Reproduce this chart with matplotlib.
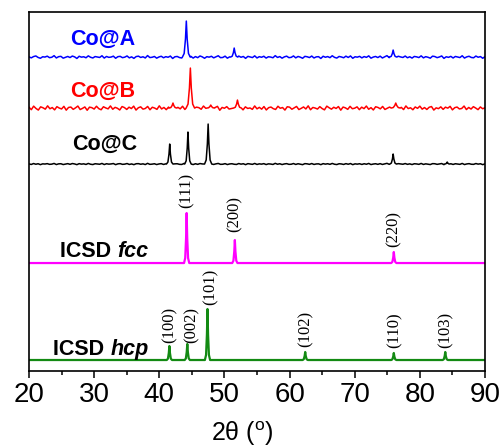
import numpy as np
import matplotlib
matplotlib.use("Agg")
import matplotlib.pyplot as plt

plt.rcParams['font.family'] = ['Liberation Sans', 'DejaVu Sans']
plt.rcParams['mathtext.fontset'] = 'custom'
plt.rcParams['mathtext.rm'] = 'Liberation Sans'

# ---------------- data (intensity in arbitrary units) ----------------
# Co@A
A_peak_pos = [44.15, 51.5, 75.9]
A_peak_h = [36, 9, 7]
A_peak_w = [0.6, 0.55, 0.55]
A_noise = [0.2,-0.8,0.5,1.1,-0.4,-1.2,0.3,0.0,0.9,-0.6,-0.2,1.4,-0.9,0.4,0.7,-1.1,-0.3,0.6,-0.5,1.0,0.2,-1.4,0.8,-0.1,0.3,-0.7,1.2,-0.2,-0.9,0.5,0.1,-0.4,1.3,-1.0,0.6,-0.3,0.0,0.9,-1.2,0.4,0.7,-0.6,-0.1,1.1,-0.8,0.2,-1.3,0.5,0.9,-0.4,0.3,-0.9,1.5,-0.5,-0.2,0.6,-1.1,0.1,0.8,-0.7,0.4,-0.2,1.0,-1.4,0.3,0.6,-0.5,-0.9,1.2,0.0,-0.3,0.7,-1.0,0.5,-0.6,1.1,0.2,-1.2,0.4,-0.1,0.8,-0.8,0.3,1.3,-0.6,-0.4,0.9,-1.1,0.2,0.5,-0.3,-0.8,1.0,-0.2,0.6,-1.3,0.7,0.1,-0.5,1.2,-0.9,0.4,-0.2,0.8,-1.0,0.3,0.0,-0.7,1.4,-0.4,0.5,-1.1,0.2,0.9,-0.6,-0.3,1.1,-0.8,0.6,-0.1,-1.2,0.7,0.3,-0.5,1.0,-0.9,0.2,0.4,-1.4,0.8,-0.2,0.5,-0.6,1.3,-0.3,-1.0,0.6,0.1,-0.7,0.9,-0.4,1.1,-1.2,0.3,-0.1,0.7,-0.8,0.5,-0.3,1.2,-1.1,0.0,0.6,-0.5,0.9,-0.9,0.2,1.4,-0.6,-0.2,0.4,-1.3,0.8,0.1,-0.4,1.0,-0.7,0.3,-1.0,0.6,0.2,-0.5,1.2,-0.8,0.4,-0.2,-1.1,0.9,0.5,-0.6,0.1,1.1,-1.3,0.3,-0.3,0.7,-0.9,0.6,0.0,-0.5,1.3,-1.0,0.2,0.8,-0.4,-0.7,1.0,-0.2,0.5,-1.2,0.4]

# Co@B
B_peak_pos = [44.77, 42.1, 47.9, 52.0, 76.3]
B_peak_h = [40, 5, 3, 8, 5]
B_peak_w = [0.65, 0.6, 0.6, 0.6, 0.7]
B_noise = [0.8,-1.6,1.9,-0.4,-2.0,1.2,0.3,-1.1,2.2,-0.7,0.5,-1.8,1.4,0.0,-0.9,1.7,-2.1,0.6,1.0,-1.3,0.2,2.0,-1.5,-0.3,1.1,-2.2,0.9,0.4,-1.0,1.8,-0.6,-1.7,1.3,0.1,-0.8,2.1,-1.2,0.7,-0.2,-1.9,1.5,0.5,-1.4,0.9,-0.5,1.9,-2.0,0.3,1.2,-1.1,-0.4,1.6,-1.7,0.8,0.0,-1.3,2.2,-0.9,0.6,-1.6,1.0,-0.1,-2.1,1.4,0.7,-0.8,1.8,-1.4,0.2,-0.6,1.3,-1.9,0.9,0.4,-1.2,2.0,-0.3,-1.5,1.1,-0.7,0.5,1.7,-2.2,0.6,-0.2,1.4,-1.0,-0.5,1.9,-1.6,0.3,0.8,-1.8,1.2,-0.4,0.1,-1.3,2.1,-0.8,0.7,-1.1,1.5,-1.9,0.4,1.0,-0.6,-1.4,1.8,-0.2,0.5,-2.0,1.3,0.9,-1.2,0.2,1.6,-1.5,-0.3,1.1,-0.9,2.2,-1.7,0.6,0.0,-1.0,1.4,-0.5,-1.8,1.9,0.3,-1.1,0.8,-0.4,1.5,-2.1,1.0,0.2,-1.3,1.7,-0.7,-0.1,1.2,-1.6,0.9,-0.6,2.0,-1.2,0.4,-1.9,1.3,0.6,-0.8,1.6,-1.4,-0.2,1.0,-2.2,1.8,0.1,-0.9,0.7,-1.5,2.1,-0.5,0.3,-1.7,1.1,-0.3,1.9,-1.1,0.5,-1.4,0.8,1.5,-2.0,0.2,-0.6,1.2,-1.3,0.9,-0.1,1.7,-1.8,0.4,1.0,-0.9,-0.4,2.0,-1.5,0.6,-1.0,1.4,0.0,-1.6,1.1,-0.7,0.3]

# Co@C
C_peak_pos = [41.6, 44.4, 47.5, 75.9, 84.2]
C_peak_h = [20, 32, 40, 10, 2]
C_peak_w = [0.5, 0.5, 0.55, 0.5, 0.4]
C_noise = [0.1,-0.4,0.5,-0.2,0.3,-0.6,0.2,0.0,0.4,-0.3,-0.1,0.6,-0.5,0.2,0.3,-0.5,-0.1,0.4,-0.3,0.5,0.1,-0.6,0.4,-0.1,0.2,-0.4,0.6,-0.2,-0.5,0.3,0.0,-0.2,0.6,-0.5,0.3,-0.1,0.1,0.5,-0.6,0.2,0.4,-0.3,-0.1,0.5,-0.4,0.1,-0.6,0.3,0.4,-0.2,0.2,-0.5,0.7,-0.3,-0.1,0.3,-0.5,0.1,0.4,-0.4,0.2,-0.1,0.5,-0.6,0.2,0.3,-0.3,-0.4,0.6,0.0,-0.2,0.4,-0.5,0.3,-0.3,0.5,0.1,-0.6,0.2,-0.1,0.4,-0.4,0.2,0.6,-0.3,-0.2,0.4,-0.5,0.1,0.3,-0.2,-0.4,0.5,-0.1,0.3,-0.6,0.4,0.1,-0.3,0.6,-0.4,0.2,-0.1,0.4,-0.5,0.2,0.0,-0.4,0.7,-0.2,0.3,-0.5,0.1,0.4,-0.3,-0.2,0.5,-0.4,0.3,-0.1,-0.6,0.4,0.2,-0.3,0.5,-0.4,0.1,0.2,-0.6,0.4,-0.1,0.3,-0.3,0.6,-0.2,-0.5,0.3,0.1,-0.4,0.4,-0.2,0.5,-0.6,0.2,-0.1,0.3,-0.4,0.3,-0.2,0.6,-0.5,0.0,0.3,-0.3,0.4,-0.4,0.1,0.7,-0.3,-0.1,0.2,-0.6,0.4,0.1,-0.2,0.5,-0.3,0.2,-0.5,0.3,0.1,-0.3,0.6,-0.4,0.2,-0.1,-0.5,0.4,0.3,-0.3,0.1,0.5,-0.6,0.2,-0.2,0.3,-0.4,0.3,0.0,-0.3,0.6,-0.5,0.1,0.4,-0.2,-0.3,0.5,-0.1,0.3,-0.6,0.2]

# ICSD fcc reference
fcc_pos = [44.2, 51.6, 76.0]
fcc_h = [50, 23, 11]
fcc_hkl = ['(111)', '(200)', '(220)']

# ICSD hcp reference
hcp_pos = [41.55, 44.3, 47.4, 62.4, 76.0, 83.9]
hcp_h = [14, 16, 51, 8, 7, 8]
hcp_hkl = ['(100)', '(002)', '(101)', '(102)', '(110)', '(103)']

xticks = [20, 30, 40, 50, 60, 70, 80, 90]

# ---------------- layout / style ----------------
offsets = {'A': 314, 'B': 263, 'C': 207, 'fcc': 108, 'hcp': 11}
ref_w = 0.4
shape_dx = [-1, -0.55, -0.22, 0, 0.22, 0.55, 1]
shape_dy = [0, 0.1, 0.5, 1, 0.5, 0.1, 0]


def build_trace(noise, pos, h, w, base):
    if noise is None:
        gx = np.array([20.0, 90.0])
        gy = np.array([0.0, 0.0])
    else:
        gx = np.linspace(20, 90, len(noise))
        gy = np.array(noise, dtype=float)
    keep = np.ones(len(gx), bool)
    for p, ww in zip(pos, w):
        keep &= np.abs(gx - p) > ww
    xs = list(gx[keep])
    ys = list(gy[keep])
    for p, hh, ww in zip(pos, h, w):
        for dx, dy in zip(shape_dx, shape_dy):
            xs.append(p + dx * ww)
            ys.append(hh * dy)
    order = np.argsort(xs)
    return np.array(xs)[order], np.array(ys)[order] + base


fig = plt.figure(figsize=(5.0, 4.47), dpi=100)
ax = fig.add_axes([0.058, 0.170, 0.912, 0.803])

lw = 1.1
x, y = build_trace(A_noise, A_peak_pos, A_peak_h, A_peak_w, offsets['A'])
ax.plot(x, y, color='#0000ff', lw=lw)
x, y = build_trace(B_noise, B_peak_pos, B_peak_h, B_peak_w, offsets['B'])
ax.plot(x, y, color='#ff0000', lw=lw)
x, y = build_trace(C_noise, C_peak_pos, C_peak_h, C_peak_w, offsets['C'])
ax.plot(x, y, color='black', lw=lw)
x, y = build_trace(None, fcc_pos, fcc_h, [ref_w] * len(fcc_pos), offsets['fcc'])
ax.plot(x, y, color='#ff00ff', lw=1.6)
x, y = build_trace(None, hcp_pos, hcp_h, [ref_w] * len(hcp_pos), offsets['hcp'])
ax.plot(x, y, color='#138a13', lw=1.6)

# hkl labels
serif = ['Liberation Serif', 'DejaVu Serif']
fcc_lab_dx = [0.05, 0.0, 0.05]
fcc_lab_gap = [5, 8, 5]
for p, hh, t, dx, g in zip(fcc_pos, fcc_h, fcc_hkl, fcc_lab_dx, fcc_lab_gap):
    ax.text(p + dx, offsets['fcc'] + hh + g, t, rotation=90, ha='center', va='bottom',
            fontsize=12, family=serif)
hcp_lab_dx = [0.0, 0.7, 0.5, 0.0, 0.1, 0.1]
hcp_lab_gap = [3, 1, 4, 5, 5, 4]
for p, hh, t, dx, g in zip(hcp_pos, hcp_h, hcp_hkl, hcp_lab_dx, hcp_lab_gap):
    ax.text(p + dx, offsets['hcp'] + hh + g, t, rotation=90, ha='center', va='bottom',
            fontsize=12, family=serif)

# sample names
fs = 15.5
ax.text(26.3, 326, 'Co@A', color='#0000ff', fontsize=fs, fontweight='bold', va='baseline')
ax.text(26.3, 274, 'Co@B', color='#ff0000', fontsize=fs, fontweight='bold', va='baseline')
ax.text(26.6, 221, 'Co@C', color='black', fontsize=fs, fontweight='bold', va='baseline')
t1 = ax.text(24.8, 114, 'ICSD ', color='black', fontsize=fs, fontweight='bold', va='baseline')
ax.annotate('fcc', xy=(1, 0), xycoords=t1, fontsize=fs, fontweight='bold', style='italic',
            va='bottom', ha='left')
t2 = ax.text(23.7, 16, 'ICSD ', color='black', fontsize=fs, fontweight='bold', va='baseline')
ax.annotate('hcp', xy=(1, 0), xycoords=t2, fontsize=fs, fontweight='bold', style='italic',
            va='bottom', ha='left')

ax.set_xlim(20, 90)
ax.set_ylim(0, 359)
ax.set_xticks(xticks)
ax.set_xticklabels([str(v) for v in xticks])
ax.set_xticks([25, 35, 45, 55, 65, 75, 85], minor=True)
ax.set_yticks([])
ax.tick_params(axis='x', which='major', direction='out', length=5, width=1.1,
               labelsize=20, pad=3)
ax.tick_params(axis='x', which='minor', direction='out', length=3, width=1.1)
for s in ax.spines.values():
    s.set_linewidth(1.2)

ax.set_xlabel('2θ ($^{\\mathrm{o}}$)', fontsize=18)
ax.xaxis.set_label_coords(0.467, -0.135)

fig.savefig('out.png', dpi=100)
